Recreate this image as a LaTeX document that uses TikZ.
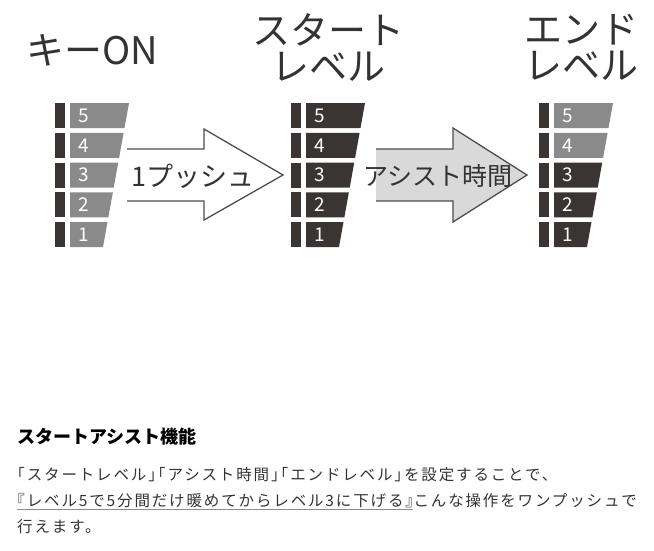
\documentclass[tikz,border=0pt]{standalone}
\usepackage{fontspec}
\setmainfont{Noto Sans CJK JP}
\newfontfamily\bodyfont[RawFeature=+halt,LetterSpace=12]{Noto Sans CJK JP}

\definecolor{lvgray}{RGB}{138,138,138}
\definecolor{lvdark}{RGB}{58,52,51}
\definecolor{arrowfill}{RGB}{217,217,217}
\definecolor{arrowline}{RGB}{77,77,77}
\definecolor{txt}{RGB}{51,51,51}
\definecolor{ulgray}{RGB}{140,140,140}

% one column of five levels: left x, name, number of dark levels
\newcommand{\levelcol}[3]{%
  \foreach \i in {1,...,5} {
    \pgfmathsetmacro\yt{103+(5-\i)*29.8}
    \pgfmathsetmacro\yb{\yt+25}
    \pgfmathsetmacro\rt{59-(\yt-103)*0.1806}
    \pgfmathsetmacro\rb{59-(\yb-103)*0.1806}
    \ifnum\i>#3 \def\lvcol{lvgray}\else\def\lvcol{lvdark}\fi
    \fill[lvdark] (#1-15,\yt) rectangle (#1-5,\yb);
    \fill[\lvcol] (#1,\yt) -- (#1+\rt,\yt) -- (#1+\rb,\yb) -- (#1,\yb) -- cycle;
    \node[lvnum] (#2\i) at (#1+13.5,\yt+12.5) {\i};
  }}

\begin{document}
\begin{tikzpicture}[x=1pt,y=-1pt,
    every node/.style={inner sep=0pt},
    lvnum/.style={text=white,font=\fontsize{19}{19}\selectfont},
    title/.style={text=txt,align=center,font=\fontsize{38}{36}\selectfont},
    body/.style={anchor=base west,text=txt,font=\bodyfont\fontsize{15.5}{15.5}\selectfont},
    blockarrow/.style={draw=arrowline,line width=1.3pt,line join=miter}]
  \useasboundingbox (0,0) rectangle (654,550);

  % headings
  \node[title] (keyon) at (92,50) {キーON};
  \node[title] (start) at (328,47) {スタート\\レベル};
  \node[title] (endlv) at (581,47) {エンド\\レベル};

  % level columns
  \levelcol{70}{key}{0}
  \levelcol{306}{st}{5}
  \levelcol{554}{en}{3}

  % arrows
  \draw[blockarrow] (127,149) -- (204,149) -- (204,129) -- (283,175)
    -- (204,220) -- (204,201) -- (127,201);
  \node[text=txt,font=\fontsize{27}{27}\selectfont] (push) at (193,176) {1プッシュ};

  \fill[arrowfill] (376,149) -- (453,149) -- (453,128) -- (527,175)
    -- (453,222) -- (453,201) -- (376,201) -- cycle;
  \draw[blockarrow] (376,149) -- (453,149) -- (453,128) -- (527,175)
    -- (453,222) -- (453,201) -- (376,201);
  \node[text=txt,font=\fontsize{25}{25}\selectfont] (assist) at (438,176) {アシスト時間};

  % description
  \node[anchor=base west,text=black,font=\fontsize{18}{18}\selectfont\bfseries] (head) at (17,443) {スタートアシスト機能};
  \node[body] (line1) at (17,480) {「スタートレベル」「アシスト時間」「エンドレベル」を設定することで、};
  \node[body] (quote) at (17,506) {『レベル5で5分間だけ暖めてからレベル3に下げる』};
  \node[body] (rest) at (quote.base east) {こんな操作をワンプッシュで};
  \node[body] (line3) at (17,532) {行えます。};
  \draw[ulgray,line width=1pt] ([yshift=-2pt]quote.south west) -- ([yshift=-2pt]quote.south east);
\end{tikzpicture}
\end{document}
